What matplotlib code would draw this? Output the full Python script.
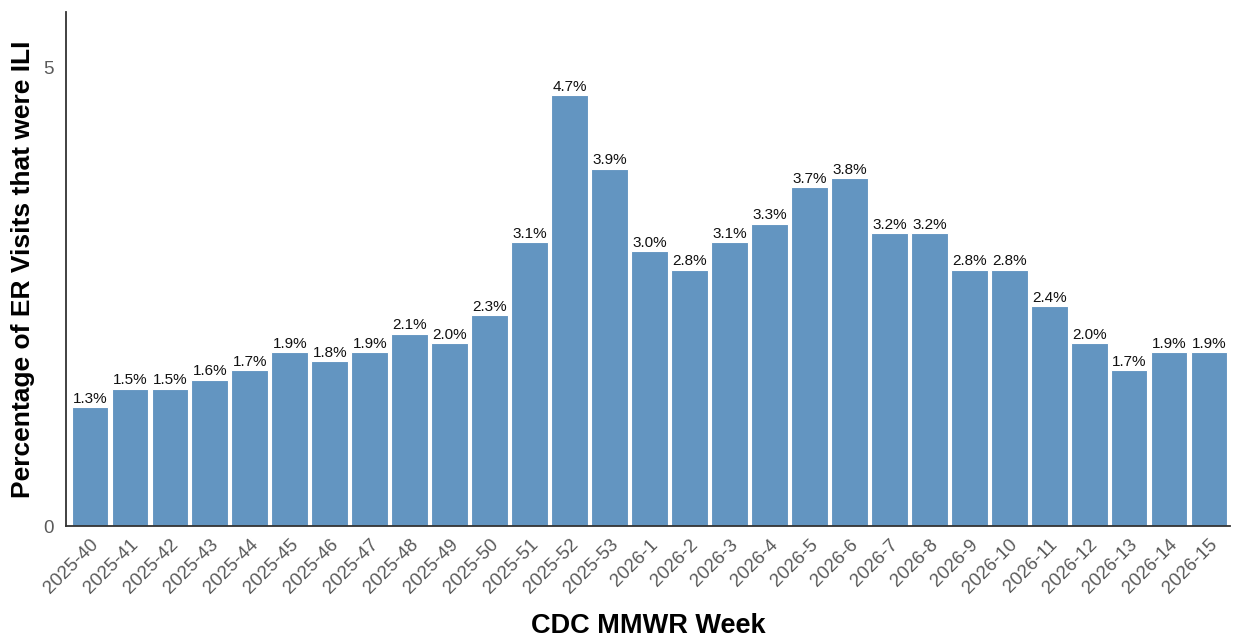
import matplotlib.pyplot as plt

plt.rcParams['font.family'] = ['Liberation Sans', 'DejaVu Sans']

weeks = ["2025-40", "2025-41", "2025-42", "2025-43", "2025-44", "2025-45",
         "2025-46", "2025-47", "2025-48", "2025-49", "2025-50", "2025-51",
         "2025-52", "2025-53", "2026-1", "2026-2", "2026-3", "2026-4",
         "2026-5", "2026-6", "2026-7", "2026-8", "2026-9", "2026-10",
         "2026-11", "2026-12", "2026-13", "2026-14", "2026-15"]
ili_pct = [1.3, 1.5, 1.5, 1.6, 1.7, 1.9, 1.8, 1.9, 2.1, 2.0, 2.3, 3.1,
           4.7, 3.9, 3.0, 2.8, 3.1, 3.3, 3.7, 3.8, 3.2, 3.2, 2.8, 2.8,
           2.4, 2.0, 1.7, 1.9, 1.9]

fig = plt.figure(figsize=(12.36, 6.37), dpi=100)
ax = fig.add_axes([0.0534, 0.174, 0.9416, 0.807])

x = range(len(weeks))
bars = ax.bar(x, ili_pct, width=0.92, color="#6395c1", edgecolor="white", linewidth=0.8)

for bar, v in zip(bars, ili_pct):
    ax.text(bar.get_x() + bar.get_width() / 2, bar.get_height() + 0.015,
            f"{v:.1f}%", ha="center", va="bottom", fontsize=11, color="#111111")

ax.set_xlim(-0.6, len(weeks) - 0.48)
ax.set_ylim(0, 5.61)
ax.set_yticks([0, 5])
ax.set_xticks(list(x))
ax.set_xticklabels(weeks, rotation=45, ha="right", rotation_mode="anchor")
ax.tick_params(axis="both", length=0, colors="#5a5a5a", labelsize=13.5)
ax.tick_params(axis="x", pad=7)
ax.tick_params(axis="y", pad=9)

for side in ["top", "right"]:
    ax.spines[side].set_visible(False)
for side in ["left", "bottom"]:
    ax.spines[side].set_color("#333333")
    ax.spines[side].set_linewidth(1.3)

ax.set_xlabel("CDC MMWR Week", fontsize=19.5, fontweight="bold")
ax.set_ylabel("Percentage of ER Visits that were ILI", fontsize=19, fontweight="bold")
ax.xaxis.set_label_coords(0.5, -0.168)
ax.xaxis.label.set_va("top")
ax.yaxis.set_label_coords(-0.027, 0.5)

fig.savefig("out.png", dpi=100)
